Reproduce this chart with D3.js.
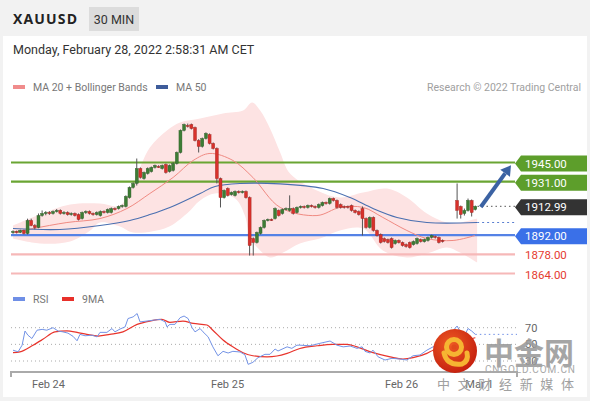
<!DOCTYPE html>
<html>
<head>
<meta charset="utf-8">
<script src="https://cdn.jsdelivr.net/npm/d3@7"></script>
<style>
body { margin: 0; background: #f2f2f2; font-family: Roboto, "Liberation Sans", Arial, sans-serif; }
svg { display: block; }
</style>
</head>
<body>
<svg width="590" height="401"></svg>
<script>
// 30 min candles, slot index (weekend gap = null)
var opens = [
1894,1894.6,1894,1895.4,1893.2,1902.7,1899,1897.6,1906.3,1907.8,
1908.5,1907.8,1909.2,1910,1907.8,1908.5,1907,1907.8,1907,1904.1,
1908.5,1909.2,1907.8,1907,1906.3,1909.2,1908.5,1908.5,1911.4,1911.4,
1912.9,1912.9,1919.4,1926.8,1929.7,1940.6,1933.3,1937,1938.4,1941.4,
1942.1,1940.6,1943.5,1938.4,1939.2,1944.3,1952.3,1968.4,1972,1972.7,
1970.5,1961.1,1956.7,1962.5,1965.4,1958.9,1955.2,1933.3,1919.4,1926,
1921.6,1920.9,1923.8,1923.1,1923.8,1919.4,1889.5,1886.6,1893.2,1897.6,
1902.7,1903.4,1904.1,1910,1907.8,1910.7,1910,1911.4,1908.5,1912.2,
1912.9,1912.2,1913.6,1912.9,1912.2,1913.6,1915.8,1915.1,1918.7,1917.3,
1914.3,1912.9,1912.9,1913.6,1910,1909.2,1911.4,1904.1,1897.6,1904.9,
1895.4,1892.4,1889.5,1888.8,1889.5,1885.9,1888.1,1886.6,1885.1,1886.6,
1885.1,1885.9,1888.8,1887.3,1888.1,1890.3,1891,1890.3,1888.1,null,
null,null,1917.3,1912.9,1907.8,1910,1917.3,1910.7];
var highs = [
1895.5,1895.3,1896,1896,1904,1904,1900,1907.8,1910,1909.5,
1909.5,1910,1911,1910.8,1909.5,1909.3,1908.6,1908.5,1907.8,1909.2,
1910,1910,1908.5,1909.3,1910,1910,1911.4,1912.2,1912.2,1913.6,
1914.3,1921,1927.5,1930.5,1947.9,1941.4,1938.4,1941.4,1942.1,1943.5,
1943,1943.5,1944.3,1943.5,1945.3,1953,1969.1,1973.4,1973.4,1973.4,
1971.2,1962,1963.2,1967,1966.2,1959.6,1956,1934,1925.3,1926.8,
1923.8,1924.6,1924.6,1924.6,1924.6,1920.2,1890.3,1894.6,1898.3,1903.4,
1904.1,1904.1,1912.2,1910.7,1911.4,1912.2,1921,1912.2,1912.9,1913.6,
1913.6,1914.3,1914.3,1913.6,1915.1,1916.5,1916.5,1919.4,1919.4,1918,
1915.1,1913.6,1913.6,1914.3,1910.7,1910,1912.9,1904.9,1905.6,1905.6,
1896.1,1893.2,1890.3,1889.5,1890.3,1888.8,1888.8,1887.3,1885.9,1887.3,
1888.1,1890.3,1889.5,1889.5,1891,1892.4,1891.7,1891,1888.8,null,
null,null,1929.7,1913.6,1911.4,1918.7,1918,1913.6];
var lows = [
1893,1893.2,1893.5,1892.5,1892.5,1898.5,1896.2,1897,1905.5,1906.5,
1906.8,1907,1908.5,1907,1907,1906.3,1906.2,1905.6,1902.7,1903.4,
1907.5,1907,1906.2,1906.3,1905.6,1907.8,1907.8,1907.8,1910,1910.7,
1912,1912.2,1918.7,1926,1928.2,1933.3,1932.5,1936.2,1937.7,1940.6,
1941,1939.9,1936.9,1937.7,1938.4,1943.5,1951.6,1967.7,1970.5,1969.1,
1960.4,1952.3,1955.9,1961.8,1958.2,1954.5,1929.7,1912.2,1918.7,1920.2,
1920.9,1920.2,1922.4,1922.4,1918.7,1877.1,1877.1,1885.9,1892.4,1896.8,
1902,1902.3,1903.4,1905.6,1907,1910,1909.2,1907,1907.8,1911.4,
1911.4,1911.4,1912.2,1911.4,1911.4,1912.9,1914.3,1914.3,1916.5,1911.4,
1911.4,1911.4,1911.4,1909.2,1907.8,1906.3,1891.7,1896.8,1896.8,1894.6,
1891,1885.9,1886.6,1885.9,1882.2,1885.1,1885.9,1883.7,1882.9,1882.2,
1884.4,1885.1,1886.6,1886.6,1887.3,1889.5,1889.5,1885.9,1886.6,null,
null,null,1904.1,1904.1,1906.3,1909.2,1905.6,1910];
var closes = [
1894.6,1894,1895.4,1893.2,1902.7,1899,1897.6,1906.3,1907.8,1908.5,
1907.8,1909.2,1910,1907.8,1908.5,1907,1907.8,1906.3,1903.4,1908.5,
1909.2,1907.8,1907,1908.5,1909.2,1908.5,1910.7,1911.4,1911,1912.9,
1913.6,1920.2,1926.8,1929.7,1940.6,1934.1,1937.7,1940.6,1941.4,1942.8,
1941.8,1942.8,1937.7,1942.8,1944.3,1952.3,1968.4,1972.7,1971.3,1969.8,
1961.1,1956.7,1962.5,1966.2,1958.9,1955.2,1933.3,1919.4,1924.6,1920.9,
1923.1,1923.8,1923.1,1923.8,1919.4,1884.4,1886.6,1893.9,1897.6,1902.7,
1903.4,1903,1911.4,1906.3,1910.7,1911.4,1911.4,1907.8,1912.2,1912.9,
1912.2,1913.6,1912.9,1912.2,1914.3,1915.8,1915.1,1918.7,1917.3,1912.2,
1912.2,1912.2,1912.2,1910,1908.5,1907,1904.1,1897.6,1904.9,1895.4,
1891.7,1886.6,1887.3,1886.6,1882.9,1888.1,1886.6,1884.4,1883.7,1882.9,
1887.3,1889.5,1887.3,1888.8,1890.3,1891.7,1890.3,1886.6,1887.3,null,
null,null,1910,1907,1910,1917.3,1908.5,1912.99];

var lastPrice = 1912.99;
var levelValues = [1945, 1931, 1892, 1878, 1864];
var levelKinds = ["res", "res", "sup", "sup2", "sup2"];

// [slot, price]
var ma20 = [[0,1893.9],[5.5,1896.8],[14.8,1901.2],[23.9,1904.1],[31.3,1911.4],[37.6,1922.4],[44,1934.1],
  [49.5,1946.5],[54.1,1951.6],[60.4,1946.5],[65.9,1934.1],[73.4,1912.2],[83.5,1906.3],[89.8,1912.2],
  [96.2,1912.2],[101.6,1904.9],[108.2,1895.4],[113.7,1889.5],[120.9,1888.1],[126.9,1891.7]];
var ma50 = [[0,1896.8],[12.9,1896.1],[23.9,1899],[32.1,1902.7],[37.6,1907],[43.1,1912.2],[51.4,1922.4],
  [55.5,1927.5],[62.4,1929.7],[73.4,1929.4],[85.2,1926],[92.6,1919.4],[98.9,1911.4],[105.5,1904.9],
  [113.7,1901.2],[127.5,1901.2]];
var bbUpper = [[0,1899],[7.4,1907.1],[15.7,1914.4],[23.9,1915.1],[29.4,1913.6],[33,1929.7],[37.6,1955.9],
  [42.3,1968.4],[45.9,1974.2],[51.4,1977.1],[57.7,1980.8],[63.2,1982.9],[65.7,1988.8],[67.9,1982.9],
  [70.6,1969.8],[73.4,1952.3],[76.1,1937],[83.5,1924.6],[89.8,1919.5],[96.2,1923.1],[102.7,1926],
  [108.2,1919.5],[113.7,1907.8],[119.2,1901.2],[122.8,1901.2],[127.5,1904.1]];
var bbLower = [[0,1889.5],[7.4,1885.9],[15.7,1887.4],[21.2,1895.4],[23.9,1901.2],[29.4,1898.3],[33,1893.9],
  [42.3,1897.6],[47.8,1907.8],[51.4,1917.3],[55.5,1922.4],[61,1918.7],[63.7,1906.3],[65.1,1890.3],
  [67.9,1880.8],[70.6,1875.7],[74.2,1879.3],[78.8,1885.9],[84.3,1889.5],[89.8,1895.4],[96.2,1896.8],
  [101.6,1880.8],[108.2,1875.7],[113.7,1878.6],[119.2,1883],[122.8,1879.3],[127.5,1872]];

// [slot, value]
var rsi = [[0,43],[1.4,41],[2.5,49],[3.3,66],[4.1,61],[5.2,57],[6.6,67],[8,68],[9.3,67],[11,70],[12.4,66],
  [13.7,65],[15.1,63.5],[16.5,59.6],[17.6,54.3],[18.4,62],[19.8,60.3],[21.7,61],[23.1,59],[23.9,64.4],
  [25.8,64.4],[27.2,69],[28,65],[29.4,68.4],[30.8,71],[31.6,81],[33,83],[34.1,87],[34.9,77],[36.8,78],
  [38.5,79],[40.4,80],[41.8,77],[42.3,71],[43.1,74],[44.5,74],[45.9,82],[47,84],[48.1,81],[49.2,70],
  [50,65],[51.4,69],[52.2,65],[53.6,59],[54.9,47],[56.3,36.3],[57.7,41.6],[59.1,39.6],[60.4,41.6],
  [62.4,40.8],[63.7,37.6],[64.6,26],[65.9,28.4],[67.3,34],[69.2,38],[70.6,38],[72,44.4],[72.8,42],
  [75.3,47],[76.6,45.2],[78,49],[78.8,49],[81.6,48.3],[84.3,51.2],[87.1,54],[89,49],[90.7,47],[92.6,48],
  [94.5,45.2],[95.9,47],[96.7,41.6],[98.1,39.6],[98.9,43],[100.3,35],[102.2,31.2],[104.1,33.2],
  [106.3,32.4],[108.2,31.2],[109.9,36.3],[111.8,37.2],[113.7,43],[115.4,47],[117,50],[118,52],
  [122,72],[123,64],[124,60],[125,69],[126,66],[127,62]];
var rsiMa = [[0,40],[1.9,41],[5.5,49],[8.2,56],[11.5,65],[14.8,66.3],[17.6,64.4],[20.3,62],[23.4,60],
  [26.6,62],[30.2,65],[34.1,74],[37.6,78],[40.9,80],[43.1,76.4],[46.7,78],[49.5,75.2],[53.3,73.2],
  [54.9,67],[57.7,55.2],[60.4,47],[63.2,40],[65.9,36.3],[69.8,35],[72.5,36],[75.3,39.2],[78.8,45],
  [83.5,48.3],[87.9,50],[91.8,50],[94.5,47],[98.9,40],[103.6,35],[107.1,32.4],[109.9,34],[113.7,39.2],
  [115.4,43],[117.3,46],[122,52],[127,58]];
var rsiTicks = [70, 50, 30];

var dayLabels = ["Feb 24", "Feb 25", "Feb 26", "Mar 1"];
var daySlots = [9.6, 58.8, 106.6, 128];

var arrowFrom = [128.5, 1912.5], arrowTo = [136.8, 1943];

var svg = d3.select("svg");

var x = d3.scaleLinear().domain([0, 127]).range([13, 475.3]);
var y = d3.scaleLinear().domain([1864, 1945]).range([273.5, 162.5]);
var yr = d3.scaleLinear().domain([30, 70]).range([361, 327.7]);
var left = 11, right = 515;

// header + panel
svg.append("rect").attr("x", 3).attr("y", 36).attr("width", 584).attr("height", 361).attr("fill", "#fff");
svg.append("text").attr("x", 13).attr("y", 24).attr("textLength", 64)
  .style("font-family", "'Open Sans'").style("font-weight", 700).style("font-size", "14px")
  .attr("fill", "#222").text("XAUUSD");
svg.append("rect").attr("x", 89).attr("y", 7).attr("width", 50).attr("height", 24).attr("fill", "#dcdcdc");
svg.append("text").attr("x", 114).attr("y", 23.5).attr("text-anchor", "middle")
  .style("font-size", "12.5px").attr("fill", "#333").text("30 MIN");
svg.append("text").attr("x", 13).attr("y", 54).style("font-size", "12.5px").attr("fill", "#333")
  .text("Monday, February 28, 2022 2:58:31 AM CET");

// legend
svg.append("rect").attr("x", 13).attr("y", 85).attr("width", 12).attr("height", 4).attr("fill", "#f08c8c");
svg.append("text").attr("x", 33).attr("y", 91).style("font-size", "10.5px").attr("fill", "#777").text("MA 20 + Bollinger Bands");
svg.append("rect").attr("x", 156).attr("y", 85).attr("width", 12).attr("height", 4).attr("fill", "#3e5c9a");
svg.append("text").attr("x", 176).attr("y", 91).style("font-size", "10.5px").attr("fill", "#777").text("MA 50");
svg.append("text").attr("x", 581).attr("y", 91).attr("text-anchor", "end").style("font-size", "10.5px")
  .attr("fill", "#a0a0a0").text("Research \u00a9 2022 Trading Central");

// bollinger bands
var curve = d3.line().x(function(d) { return x(d[0]); }).y(function(d) { return y(d[1]); }).curve(d3.curveCatmullRom);
var bandPath = curve(bbUpper) + "L" + curve(bbLower.slice().reverse()).slice(1) + "Z";
svg.append("path").attr("d", bandPath).attr("fill", "#fde3e3");

// levels
var levelColor = { res: "#6aa533", sup: "#5582e6", sup2: "#f6b8b8" };
svg.append("g").selectAll("line").data(levelValues).enter().append("line")
  .attr("x1", left).attr("x2", right)
  .attr("y1", function(d) { return y(d); }).attr("y2", function(d) { return y(d); })
  .attr("stroke", function(d, i) { return levelColor[levelKinds[i]]; })
  .attr("stroke-width", 2.2);

// moving averages
svg.append("path").attr("d", curve(ma20)).attr("fill", "none").attr("stroke", "#f08a82").attr("stroke-width", 1);
svg.append("path").attr("d", curve(ma50)).attr("fill", "none").attr("stroke", "#4a6fb0").attr("stroke-width", 1.1);
svg.append("line").attr("x1", x(127.5)).attr("x2", right)
  .attr("y1", y(ma50[ma50.length - 1][1])).attr("y2", y(ma50[ma50.length - 1][1]))
  .attr("stroke", "#5a7fd0").attr("stroke-width", 1.2).attr("stroke-dasharray", "2,3");
svg.append("line").attr("x1", x(127.6)).attr("x2", right)
  .attr("y1", y(lastPrice)).attr("y2", y(lastPrice))
  .attr("stroke", "#777").attr("stroke-width", 1.2).attr("stroke-dasharray", "1.5,3");

// candles
var idx = d3.range(opens.length).filter(function(i) { return opens[i] != null; });
var candle = svg.append("g").selectAll("g").data(idx).enter().append("g");
candle.append("line")
  .attr("x1", function(i) { return x(i); }).attr("x2", function(i) { return x(i); })
  .attr("y1", function(i) { return y(highs[i]); }).attr("y2", function(i) { return y(lows[i]); })
  .attr("stroke", "#555").attr("stroke-width", 1);
candle.append("rect")
  .attr("x", function(i) { return x(i) - 1.5; }).attr("width", 3)
  .attr("y", function(i) { return y(Math.max(opens[i], closes[i])); })
  .attr("height", function(i) { return Math.max(1, Math.abs(y(opens[i]) - y(closes[i]))); })
  .attr("fill", function(i) { return closes[i] >= opens[i] ? "#3d7d35" : "#d8312b"; })
  .attr("stroke", function(i) { return closes[i] >= opens[i] ? "#2b5a26" : "#9e2420"; })
  .attr("stroke-width", 0.4);

// level tags
var tagFill = { res: "#5d9e2b", sup: "#3a70e8" };
function tag(v, fill) {
  var cy = y(v) + 1;
  svg.append("path").attr("d", "M515," + cy + "L521," + (cy - 8) + "H587V" + (cy + 8) + "H521Z").attr("fill", fill);
  svg.append("text").attr("x", 525).attr("y", cy + 4).style("font-size", "11.5px").attr("fill", "#fff").text(v.toFixed(2));
}
levelValues.forEach(function(v, i) {
  var k = levelKinds[i];
  if (k === "sup2") {
    svg.append("text").attr("x", 525).attr("y", y(v) + 5).style("font-size", "11.5px").attr("fill", "#e53b30").text(v.toFixed(2));
  } else {
    tag(v, tagFill[k]);
  }
});
tag(lastPrice, "#333");

// arrow
var ax1 = x(arrowFrom[0]), ay1 = y(arrowFrom[1]), ax2 = x(arrowTo[0]), ay2 = y(arrowTo[1]);
var ang = Math.atan2(ay2 - ay1, ax2 - ax1);
var hb = 10, hw = 6;
var bx = ax2 - hb * Math.cos(ang), by = ay2 - hb * Math.sin(ang);
svg.append("line").attr("x1", ax1).attr("y1", ay1).attr("x2", bx).attr("y2", by)
  .attr("stroke", "#3b62a3").attr("stroke-width", 4);
svg.append("path").attr("fill", "#3b62a3").attr("d",
  "M" + ax2 + "," + ay2 +
  "L" + (bx + hw * Math.sin(ang)) + "," + (by - hw * Math.cos(ang)) +
  "L" + (bx - hw * Math.sin(ang)) + "," + (by + hw * Math.cos(ang)) + "Z");

// RSI panel
svg.append("rect").attr("x", 13).attr("y", 297).attr("width", 12).attr("height", 4).attr("fill", "#6f8fe6");
svg.append("text").attr("x", 33).attr("y", 303).style("font-size", "10.5px").attr("fill", "#777").text("RSI");
svg.append("rect").attr("x", 62).attr("y", 297).attr("width", 12).attr("height", 4).attr("fill", "#e8302a");
svg.append("text").attr("x", 82).attr("y", 303).style("font-size", "10.5px").attr("fill", "#777").text("9MA");

svg.append("g").selectAll("line").data(rsiTicks).enter().append("line")
  .attr("x1", left).attr("x2", 517)
  .attr("y1", function(d) { return yr(d); }).attr("y2", function(d) { return yr(d); })
  .attr("stroke", "#aaa").attr("stroke-dasharray", "1,3");

var rAxis = svg.append("g").attr("transform", "translate(521,0)")
  .call(d3.axisRight(yr).tickValues(rsiTicks).tickSize(0).tickPadding(4));
rAxis.select(".domain").remove();
rAxis.selectAll("text").style("font-size", "11px").style("font-family", "Roboto").attr("fill", "#666");

var rline = d3.line().x(function(d) { return x(d[0]); }).y(function(d) { return yr(d[1]); });
svg.append("path").attr("d", rline.curve(d3.curveMonotoneX)(rsiMa)).attr("fill", "none")
  .attr("stroke", "#e8342c").attr("stroke-width", 1.2);
svg.append("path").attr("d", rline.curve(d3.curveLinear)(rsi)).attr("fill", "none")
  .attr("stroke", "#7393e6").attr("stroke-width", 1);
svg.append("line").attr("x1", x(127)).attr("x2", 517)
  .attr("y1", yr(rsi[rsi.length - 1][1])).attr("y2", yr(rsi[rsi.length - 1][1]))
  .attr("stroke", "#6f8fe6").attr("stroke-dasharray", "1.5,3");

// time axis
svg.append("path").attr("d", "M11,377V372H517V377").attr("fill", "none").attr("stroke", "#aaa").attr("stroke-width", 2);
var xAxis = svg.append("g").attr("transform", "translate(0,374)")
  .call(d3.axisBottom(x).tickValues(daySlots).tickFormat(function(d, i) { return dayLabels[i]; }).tickSize(0).tickPadding(6));
xAxis.select(".domain").remove();
xAxis.selectAll("text").style("font-size", "11px").style("font-family", "Roboto").attr("fill", "#666");

// watermark
var defs = svg.append("defs");
var rg = defs.append("radialGradient").attr("id", "wm").attr("cx", "40%").attr("cy", "35%").attr("r", "70%");
rg.append("stop").attr("offset", "0%").attr("stop-color", "#ee5a24");
rg.append("stop").attr("offset", "100%").attr("stop-color", "#c41e0e");
var wm = svg.append("g").attr("transform", "translate(455,351)");
wm.append("circle").attr("r", 22).attr("fill", "url(#wm)");
wm.append("circle").attr("cx", -1).attr("cy", -4).attr("r", 7.5).attr("fill", "none").attr("stroke", "#f6b532").attr("stroke-width", 5);
wm.append("path").attr("d", "M-11,2 Q-8,15 7,13 Q14,10 12,2").attr("fill", "none").attr("stroke", "#f6b532").attr("stroke-width", 5).attr("stroke-linecap", "round");
wm.append("circle").attr("cx", -1).attr("cy", -4).attr("r", 2.5).attr("fill", "#e04a1c");
svg.append("text").attr("x", 484).attr("y", 364).attr("textLength", 90)
  .style("font-family", "'Noto Sans CJK SC'").style("font-weight", 700).style("font-size", "30px")
  .attr("fill", "#9c9c9c").attr("opacity", 0.9).text("中金网");
svg.append("text").attr("x", 485).attr("y", 373).attr("textLength", 90)
  .style("font-size", "10px").attr("fill", "#a8a8a8").text("CNGOLD.COM.CN");
svg.append("text").attr("x", 437).attr("y", 389).attr("textLength", 137)
  .style("font-family", "'Noto Sans CJK SC'").style("font-size", "13px").attr("fill", "#a0a0a0")
  .text("中文财经新媒体");
</script>
</body>
</html>
